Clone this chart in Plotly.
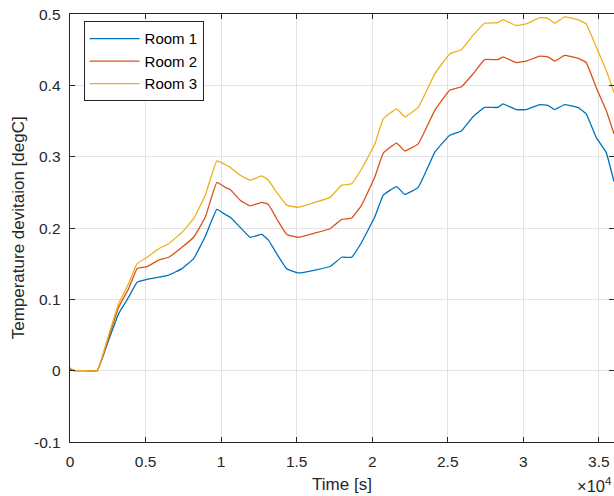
import plotly.graph_objects as go

time_s = [0, 300, 1000, 1800, 2560, 3220, 3880, 4440, 5100, 5870, 6530, 7410, 8180, 8950, 9720,
          10270, 10600, 11260, 11920, 12690, 13130, 13680, 14340, 15110, 16220, 17210, 17980,
          18640, 19300, 20180, 20730, 21610, 22160, 23040, 24140, 25130, 25900, 26670, 27440,
          28320, 28650, 29530, 30200, 31080, 31620, 32070, 32730, 33610, 34160, 34820, 35480, 36000]

room1 = [0.002, 0, 0, 0, 0.043, 0.080, 0.103, 0.124, 0.128, 0.131, 0.134, 0.143, 0.157, 0.188, 0.226,
         0.219, 0.215, 0.201, 0.187, 0.191, 0.183, 0.164, 0.143, 0.137, 0.141, 0.146, 0.159,
         0.159, 0.180, 0.216, 0.246, 0.258, 0.247, 0.257, 0.306, 0.330, 0.336, 0.356, 0.369,
         0.369, 0.374, 0.366, 0.366, 0.373, 0.372, 0.366, 0.373, 0.369, 0.360, 0.327, 0.306, 0.265]

room2 = [0.002, 0, 0, 0, 0.047, 0.089, 0.115, 0.143, 0.146, 0.155, 0.159, 0.173, 0.187, 0.215, 0.264,
         0.257, 0.254, 0.239, 0.231, 0.236, 0.233, 0.213, 0.191, 0.187, 0.193, 0.199, 0.212,
         0.214, 0.232, 0.272, 0.305, 0.319, 0.308, 0.318, 0.365, 0.393, 0.398, 0.416, 0.436,
         0.436, 0.440, 0.432, 0.434, 0.441, 0.440, 0.434, 0.442, 0.438, 0.432, 0.397, 0.365, 0.332]

room3 = [0.004, 0, 0, 0, 0.050, 0.094, 0.122, 0.150, 0.159, 0.171, 0.178, 0.194, 0.213, 0.246, 0.294,
         0.289, 0.285, 0.274, 0.267, 0.273, 0.267, 0.250, 0.232, 0.229, 0.236, 0.243, 0.260,
         0.262, 0.283, 0.318, 0.353, 0.367, 0.356, 0.369, 0.416, 0.444, 0.450, 0.470, 0.487,
         0.488, 0.492, 0.484, 0.486, 0.495, 0.494, 0.487, 0.496, 0.492, 0.486, 0.454, 0.421, 0.390]

series_names = ["Room 1", "Room 2", "Room 3"]
colors = ["#0072BD", "#D95319", "#EDB120"]

x_tickvals = [0, 5000, 10000, 15000, 20000, 25000, 30000, 35000]
x_ticktext = ["0", "0.5", "1", "1.5", "2", "2.5", "3", "3.5"]
y_tickvals = [-0.1, 0, 0.1, 0.2, 0.3, 0.4, 0.5]
y_ticktext = ["-0.1", "0", "0.1", "0.2", "0.3", "0.4", "0.5"]

FONT = "Liberation Sans, Arial, sans-serif"
AX = "#262626"

fig = go.Figure()
for name, ys, c in zip(series_names, [room1, room2, room3], colors):
    fig.add_trace(go.Scatter(x=time_s, y=ys, mode="lines", name=name,
                             line=dict(color=c, width=1.3, shape="spline", smoothing=0.3)))

fig.update_layout(
    width=614, height=496,
    margin=dict(l=70, r=0, t=14, b=54),
    paper_bgcolor="white", plot_bgcolor="white",
    font=dict(family=FONT, color=AX, size=15),
    showlegend=True,
    legend=dict(x=0.025, y=0.983, xanchor="left", yanchor="top",
                bgcolor="white", bordercolor=AX, borderwidth=1, itemwidth=50,
                font=dict(size=15, color="black"), tracegroupgap=0),
    xaxis=dict(range=[0, 36000], tickvals=x_tickvals, ticktext=x_ticktext,
               ticks="inside", ticklen=5, tickcolor=AX, showline=True, linecolor=AX,
               linewidth=1, mirror="ticks", showgrid=True, gridcolor="#E3E3E3",
               zeroline=False, tickfont=dict(size=15.5), ticklabelstandoff=5,
               title=dict(text="Time [s]", font=dict(size=17), standoff=9)),
    yaxis=dict(range=[-0.1, 0.5], tickvals=y_tickvals, showticklabels=False,
               ticks="inside", ticklen=5, tickcolor=AX, showline=True, linecolor=AX,
               linewidth=1, mirror="ticks", showgrid=True, gridcolor="#E3E3E3",
               zeroline=False),
)

# y tick labels, placed just left of the axis as in the reference
for v, t in zip(y_tickvals, y_ticktext):
    fig.add_annotation(text=t, xref="paper", yref="y", x=-0.012, y=v,
                       xanchor="right", yanchor="middle", showarrow=False,
                       font=dict(size=15.5, color=AX))

# y axis title
fig.add_annotation(text="Temperature devitaion [degC]", xref="paper", yref="paper",
                   x=-0.095, y=0.5, xanchor="center", yanchor="middle", textangle=-90,
                   showarrow=False, font=dict(size=17, color=AX))

fig.add_annotation(text="×10<sup>4</sup>", xref="paper", yref="paper", x=1.0, y=-0.1,
                   xanchor="right", yanchor="middle", showarrow=False,
                   font=dict(size=16.5, color=AX))

fig.write_html("out.html")
